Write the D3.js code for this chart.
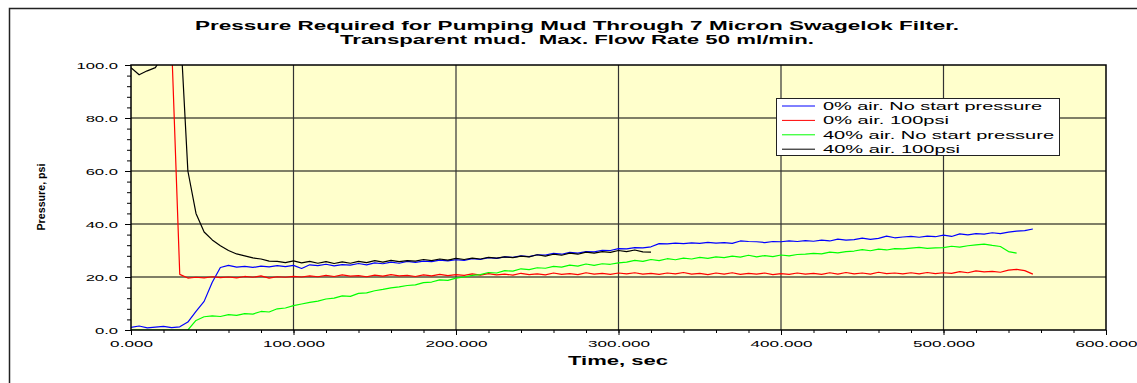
<!DOCTYPE html>
<html>
<head>
<meta charset="utf-8">
<script src="https://cdn.jsdelivr.net/npm/d3@7/dist/d3.min.js"></script>
<style>
  body { margin: 0; background: #fff; }
  text { font-family: "Liberation Sans", Arial, sans-serif; fill: #000; }
</style>
</head>
<body>
<svg id="chart" width="1137" height="383"></svg>
<script>
// sample times (sec)
const times = [
  0, 5, 10, 15, 20, 25, 30, 35, 40, 45,
  50, 55, 60, 65, 70, 75, 80, 85, 90, 95,
  100, 105, 110, 115, 120, 125, 130, 135, 140, 145,
  150, 155, 160, 165, 170, 175, 180, 185, 190, 195,
  200, 205, 210, 215, 220, 225, 230, 235, 240, 245,
  250, 255, 260, 265, 270, 275, 280, 285, 290, 295,
  300, 305, 310, 315, 320, 325, 330, 335, 340, 345,
  350, 355, 360, 365, 370, 375, 380, 385, 390, 395,
  400, 405, 410, 415, 420, 425, 430, 435, 440, 445,
  450, 455, 460, 465, 470, 475, 480, 485, 490, 495,
  500, 505, 510, 515, 520, 525, 530, 535, 540, 545,
  550, 555
];

// pressure (psi) per series, one value per sample time
const air0NoStart = [
  1.0, 1.5, 0.8, 1.1, 1.4, 0.9, 1.2, 3.0, 7.0, 10.8,
  18.0, 23.6, 24.4, 23.7, 24.0, 23.6, 24.1, 23.8, 24.3, 23.9,
  24.4, 23.2, 24.6, 24.3, 24.8, 24.2, 24.7, 24.5, 25.1, 24.6,
  25.3, 25.0, 25.6, 25.2, 25.9, 25.5, 26.0, 25.8, 26.4, 26.1,
  26.5, 26.3, 26.9, 26.6, 27.3, 27.0, 27.6, 27.4, 28.0, 27.7,
  28.4, 28.3, 28.9, 28.6, 29.3, 29.0, 29.6, 29.5, 30.1, 30.0,
  30.7, 30.6, 31.1, 31.0, 31.4, 32.6, 32.5, 32.8, 32.6, 32.9,
  32.7, 33.1, 32.8, 33.0, 32.7, 33.6, 33.4, 33.3, 33.0, 33.4,
  33.3, 33.6, 33.4, 33.7, 33.5, 33.9, 33.6, 34.3, 33.9, 34.1,
  34.7, 34.2, 34.6, 35.4, 34.8, 35.1, 35.3, 35.0, 35.4, 35.2,
  35.8, 35.3, 36.3, 35.9, 36.4, 36.2, 36.7, 36.4, 36.9, 37.3,
  37.5, 38.1
];

const air0Psi100 = [
  null, null, null, null, null, 108, 21.0, 19.6, 19.9, 19.7,
  20.1, 19.8, 20.0, 19.7, 20.2, 19.9, 20.4, 19.6, 20.1, 19.9,
  20.2, 20.0, 20.4, 20.1, 20.6, 20.2, 20.8, 20.3, 20.5, 20.1,
  20.7, 20.3, 20.9, 20.4, 20.6, 20.2, 20.8, 20.4, 21.0, 20.5,
  20.9, 20.6, 21.2, 20.7, 21.3, 20.8, 21.1, 20.7, 21.4, 20.9,
  21.2, 20.8, 21.5, 21.0, 21.3, 20.9, 21.6, 21.1, 21.4, 21.0,
  21.5, 21.2, 21.6, 21.1, 21.4, 21.0, 21.5, 21.2, 21.7, 21.1,
  21.4, 20.9, 21.5, 21.1, 21.6, 21.0, 21.4, 21.1, 21.5, 20.9,
  21.3, 21.0, 21.5, 21.1, 21.4, 21.0, 21.6, 21.1, 21.7, 21.2,
  21.5, 21.1, 21.8, 21.3, 21.5, 21.2, 21.6, 21.2, 21.7, 21.3,
  21.6, 21.4, 22.0, 21.6, 22.3, 21.9, 22.1, 21.8, 22.6, 22.9,
  22.4, 21.1
];

const air40NoStart = [
  0.0, 0.0, 0.0, 0.0, 0.0, 0.0, 0.0, 0.0, 3.6, 5.0,
  5.3, 5.1, 5.8, 5.5, 6.2, 6.0, 7.0, 6.8, 8.0, 8.3,
  9.2, 9.8, 10.4, 10.9, 11.7, 12.0, 12.9, 12.7, 13.8, 14.0,
  14.8, 15.3, 15.9, 16.3, 16.8, 17.0, 17.9, 18.1, 18.9, 18.7,
  19.6, 20.0, 20.6, 20.9, 21.7, 21.5, 22.4, 22.2, 23.1, 22.8,
  23.5, 23.3, 24.0, 23.7, 24.5, 24.1, 24.9, 24.4, 25.0, 24.8,
  25.3, 25.6, 26.3, 25.9, 26.6, 26.2, 26.9, 26.5, 27.1, 26.8,
  27.4, 27.0, 27.6, 27.3, 27.9, 27.5, 28.2, 27.6, 28.1, 27.7,
  28.3, 28.0, 28.5, 28.6, 28.9, 28.7, 29.4, 29.1, 29.6, 29.8,
  30.3, 29.9, 30.5, 30.2, 30.7, 30.6, 30.9, 31.2, 30.8, 31.0,
  31.1, 31.6, 31.3, 31.8, 32.1, 32.4, 31.9, 31.5, 29.6, 29.0
];

const air40Psi100 = [
  99.0, 96.3, 97.8, 99.0, 104, 115, 118, 60, 44, 37.0,
  34.0, 31.8, 30.0, 28.7, 28.0, 27.2, 26.8, 26.0, 25.9, 25.4,
  26.1, 25.3, 25.9, 25.2, 25.8, 25.1, 25.7, 25.2, 25.9, 25.4,
  26.2, 25.6, 26.3, 25.8, 26.2, 26.0, 26.6, 26.2, 26.8, 26.4,
  27.0, 26.6, 27.1, 26.8, 27.4, 27.1, 27.6, 27.3, 27.9, 27.6,
  28.4, 27.9, 28.6, 28.2, 29.0, 28.6, 29.4, 29.0, 29.6, 29.3,
  30.0, 29.6, 30.2, 29.5, 29.4
];

const seriesNames = [
  "0% air. No start pressure",
  "0% air. 100psi",
  "40% air. No start pressure",
  "40% air. 100psi"
];
const seriesColors = ["#0000ff", "#ff0000", "#00ff00", "#000000"];

const xTicks = [0, 100, 200, 300, 400, 500, 600];
const yTicks = [0, 20, 40, 60, 80, 100];

const titleLines = [
  "Pressure Required for Pumping Mud Through 7 Micron Swagelok Filter.",
  "Transparent mud.  Max. Flow Rate 50 ml/min."
];

// ---- layout
const plot = { x: 131, y: 65, w: 975, h: 265 };
const svg = d3.select("#chart");

const xScale = d3.scaleLinear().domain([0, 600]).range([plot.x, plot.x + plot.w]);
const yScale = d3.scaleLinear().domain([0, 100]).range([plot.y + plot.h, plot.y]);

// stretch text horizontally like the original
function stretch(sel, k) {
  sel.each(function () {
    const n = this.getComputedTextLength();
    d3.select(this).attr("textLength", n * k).attr("lengthAdjust", "spacingAndGlyphs");
  });
}
function fitTo(sel, len) {
  sel.attr("textLength", len).attr("lengthAdjust", "spacingAndGlyphs");
}

// outer frame
svg.append("rect")
  .attr("x", 9.5).attr("y", 8.5)
  .attr("width", 1200).attr("height", 400)
  .attr("fill", "none").attr("stroke", "#222").attr("stroke-width", 1.5);

// title
const titleWidths = [764, 474];
svg.selectAll("text.title")
  .data(titleLines)
  .join("text")
  .attr("class", "title")
  .attr("x", 577)
  .attr("y", (d, i) => 30 + i * 14)
  .attr("text-anchor", "middle")
  .style("font-size", "12px")
  .style("font-weight", "bold")
  .style("white-space", "pre")
  .text(d => d)
  .each(function (d, i) { fitTo(d3.select(this), titleWidths[i]); });

// plot background
svg.append("rect")
  .attr("x", plot.x).attr("y", plot.y)
  .attr("width", plot.w).attr("height", plot.h)
  .attr("fill", "#ffffcc");

// grid
svg.append("g").selectAll("line")
  .data(yTicks.slice(1, -1))
  .join("line")
  .attr("x1", plot.x).attr("x2", plot.x + plot.w)
  .attr("y1", d => yScale(d)).attr("y2", d => yScale(d))
  .attr("stroke", "#000").attr("stroke-width", 1.2);

svg.append("g").selectAll("line")
  .data(xTicks.slice(1, -1))
  .join("line")
  .attr("x1", d => xScale(d)).attr("x2", d => xScale(d))
  .attr("y1", plot.y).attr("y2", plot.y + plot.h)
  .attr("stroke", "#333").attr("stroke-width", 1.2);

// lines
svg.append("clipPath").attr("id", "clip")
  .append("rect")
  .attr("x", plot.x).attr("y", plot.y)
  .attr("width", plot.w).attr("height", plot.h);

const allSeries = [air0NoStart, air0Psi100, air40NoStart, air40Psi100];
const line = d3.line()
  .defined(d => d.p != null)
  .x(d => xScale(d.t))
  .y(d => yScale(d.p));

svg.append("g")
  .attr("clip-path", "url(#clip)")
  .selectAll("path")
  .data(allSeries.map((vals, i) => ({
    color: seriesColors[i],
    pts: times.map((t, j) => ({ t: t, p: j < vals.length ? vals[j] : null }))
  })))
  .join("path")
  .attr("d", d => line(d.pts))
  .attr("fill", "none")
  .attr("stroke", d => d.color)
  .attr("stroke-width", 1.2)
  .attr("stroke-linejoin", "round");

// plot border
svg.append("rect")
  .attr("x", plot.x).attr("y", plot.y)
  .attr("width", plot.w).attr("height", plot.h)
  .attr("fill", "none").attr("stroke", "#000").attr("stroke-width", 1.5);

// axes: minor ticks
svg.append("g")
  .attr("transform", `translate(${plot.x},0)`)
  .call(d3.axisLeft(yScale).tickValues(d3.range(0, 101, 4)).tickSize(4).tickFormat(""))
  .call(g => g.select(".domain").remove());

svg.append("g")
  .attr("transform", `translate(0,${plot.y + plot.h})`)
  .call(d3.axisBottom(xScale).tickValues(d3.range(0, 601, 20)).tickSize(3).tickFormat(""))
  .call(g => g.select(".domain").remove());

// axes: major ticks + labels
const yAxis = svg.append("g")
  .attr("transform", `translate(${plot.x},0)`)
  .call(d3.axisLeft(yScale).tickValues(yTicks).tickSize(6).tickPadding(7).tickFormat(d3.format(".1f")))
  .call(g => g.select(".domain").remove());
yAxis.selectAll("text")
  .style("font-size", "9.5px")
  .style("font-family", "'Liberation Sans', Arial, sans-serif")
  .call(stretch, 1.75);

const xAxis = svg.append("g")
  .attr("transform", `translate(0,${plot.y + plot.h})`)
  .call(d3.axisBottom(xScale).tickValues(xTicks).tickSize(5).tickPadding(5).tickFormat(d3.format(".3f")))
  .call(g => g.select(".domain").remove());
xAxis.selectAll("text")
  .style("font-size", "9.5px")
  .style("font-family", "'Liberation Sans', Arial, sans-serif")
  .call(stretch, 1.8);

// axis titles
svg.append("text")
  .attr("x", 618).attr("y", 365)
  .attr("text-anchor", "middle")
  .style("font-size", "13px")
  .style("font-weight", "bold")
  .text("Time, sec")
  .call(fitTo, 100);

svg.append("text")
  .attr("transform", "translate(45,197) rotate(-90)")
  .attr("text-anchor", "middle")
  .style("font-size", "10.5px")
  .style("font-weight", "900")
  .text("Pressure, psi")
  .call(fitTo, 67);

// legend
const legend = svg.append("g").attr("transform", "translate(776,98)");
legend.append("rect")
  .attr("x", 0.5).attr("y", 0.5)
  .attr("width", 283).attr("height", 57)
  .attr("fill", "#fff").attr("stroke", "#222").attr("stroke-width", 1);

const legendWidths = [219, 126, 231, 137];
const entry = legend.selectAll("g.entry")
  .data(seriesNames)
  .join("g")
  .attr("class", "entry")
  .attr("transform", (d, i) => `translate(0,${8 + i * 14.4})`);

entry.append("line")
  .attr("x1", 6).attr("x2", 39)
  .attr("stroke", (d, i) => seriesColors[i])
  .attr("stroke-width", 1);

entry.append("text")
  .attr("x", 47)
  .attr("dy", "0.36em")
  .style("font-size", "11px")
  .text(d => d)
  .each(function (d, i) { fitTo(d3.select(this), legendWidths[i]); });
</script>
</body>
</html>
